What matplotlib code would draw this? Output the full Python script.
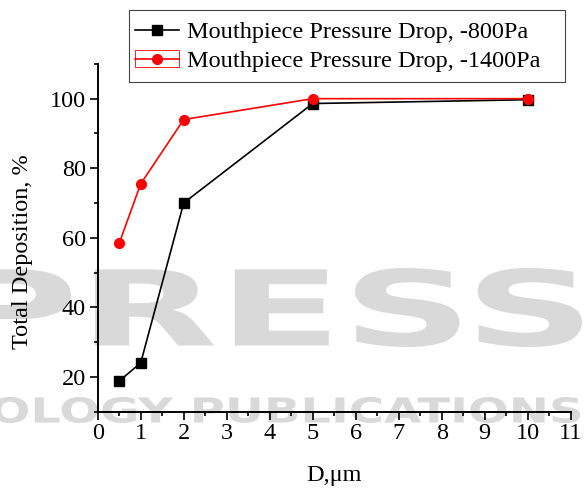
import numpy as np
import matplotlib.pyplot as plt
from matplotlib.patches import Patch, PathPatch, Rectangle
from matplotlib.legend_handler import HandlerTuple
from matplotlib.textpath import TextPath
from matplotlib.font_manager import FontProperties
from matplotlib.transforms import Affine2D, IdentityTransform
from matplotlib.ticker import MultipleLocator

plt.rcParams['font.family'] = ['Liberation Serif', 'DejaVu Serif']
plt.rcParams['font.size'] = 17.5

# particle diameter [um] and total deposition [%]
diam = [0.5, 1, 2, 5, 10]
dep_800 = [18.8, 24.0, 70.0, 98.6, 99.7]
dep_1400 = [58.4, 75.5, 94.0, 100.0, 100.0]
labels = ['Mouthpiece Pressure Drop, -800Pa', 'Mouthpiece Pressure Drop, -1400Pa']

W, H = 585, 490
fig = plt.figure(figsize=(W / 100, H / 100), dpi=100)
ax = fig.add_axes([0.167, 0.160, 0.8086, 0.7096])
ax.set_facecolor('none')


def stamp(text, x0, x1, y0, y1):
    # grey publisher stamp, stretched to a pixel box
    tp = TextPath((0, 0), text, size=100,
                  prop=FontProperties(family='DejaVu Sans', weight='bold'))
    ext = tp.get_extents()
    tr = (Affine2D().translate(-ext.x0, -ext.y0)
          .scale((x1 - x0) / ext.width, (y1 - y0) / ext.height)
          .translate(x0, H - y1))
    p = PathPatch(tr.transform_path(tp), facecolor='#d9d9d9', edgecolor='none',
                  transform=IdentityTransform(), zorder=-5)
    fig.add_artist(p)


stamp('PRESS', -38, 582, 268, 347)
stamp('OLOGY PUBLICATIONS', -8, 580, 397, 423)

l1, = ax.plot(diam, dep_800, '-s', color='black', lw=1.2, ms=6.5)
l2, = ax.plot(diam, dep_1400, '-o', color='red', lw=1.2, ms=7)

ax.set_xlim(0, 11)
ax.set_ylim(10, 110)
ax.xaxis.set_major_locator(MultipleLocator(1))
ax.xaxis.set_minor_locator(MultipleLocator(0.5))
ax.yaxis.set_minor_locator(MultipleLocator(10))
ax.set_yticks([20, 40, 60, 80, 100])
ax.tick_params(which='major', direction='out', length=5.5, width=1.2, pad=3)
ax.tick_params(which='minor', direction='out', length=3, width=1.2)

for s in ['top', 'right']:
    ax.spines[s].set_visible(False)
for s in ['left', 'bottom']:
    ax.spines[s].set_linewidth(1.4)

ax.set_xlabel('D,\u03bcm')
ax.set_ylabel('Total Deposition, %')
ax.xaxis.set_label_coords(0.5, -0.155)
ax.yaxis.set_label_coords(-0.137, 0.46)

# legend without its own frame, boxed separately
box = Patch(facecolor='none', edgecolor='red', lw=0.6)
leg = fig.legend([l1, (box, l2)], labels, loc='upper left',
                 bbox_to_anchor=(129 / W, 1 - 15 / H), borderaxespad=0,
                 handler_map={tuple: HandlerTuple(ndivide=1)},
                 handlelength=1.8, handletextpad=0.35, labelspacing=0.3,
                 borderpad=0.25, frameon=False)
fig.add_artist(Rectangle((129 / W, 1 - 82.5 / H), 436 / W, 72 / H,
                         transform=fig.transFigure, facecolor='white',
                         edgecolor='#444444', lw=0.8, zorder=4))
leg.set_zorder(5)

plt.savefig('out.png', dpi=100)
